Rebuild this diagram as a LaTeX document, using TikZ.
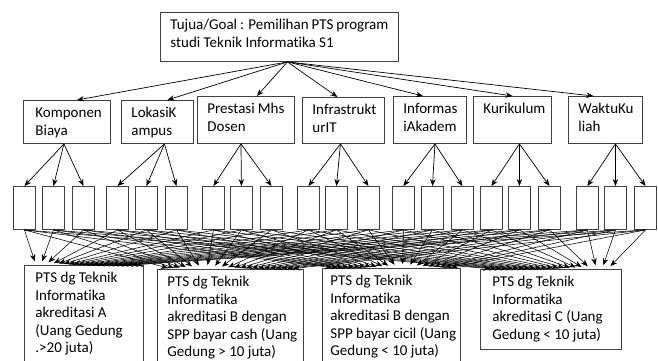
\documentclass[tikz,border=0pt]{standalone}
\usepackage{fontspec}
\setmainfont{Carlito}[Ligatures=CommonOff]
\usetikzlibrary{arrows.meta,calc}
\newcommand{\boxtxt}[3]{\parbox[c][#1][t]{#2}{\raggedright\hyphenpenalty=10000\exhyphenpenalty=10000\hbadness=10000\hfuzz=50pt\strut #3}}
\begin{document}
\begin{tikzpicture}[x=1pt,y=-1pt,
  box/.style={draw=black!75, line width=0.9pt, anchor=north west, inner xsep=10pt, inner ysep=5pt, font=\fontsize{15}{17.5}\selectfont},
  sub/.style={draw=black!75, line width=0.9pt, anchor=north west, minimum width=22pt, minimum height=43pt, inner sep=0pt},
  arr/.style={-{Stealth[length=7pt,width=5.5pt]}, line width=0.7pt, black}]
\useasboundingbox (0,0) rectangle (658,360);
\clip (0,0) rectangle (658,360);
% goal
\node[box] (goal) at (160,12) {\boxtxt{39pt}{218pt}{Tujua/Goal : Pemilihan PTS program\\studi Teknik Informatika S1}};
% criteria
\node[box,inner xsep=12pt] (c1) at (23,100) {\boxtxt{33pt}{63pt}{Komponen\\Biaya}};
\node[box] (c2) at (121,100) {\boxtxt{33pt}{52pt}{LokasiK\\ampus}};
\node[box] (c3) at (197,96) {\boxtxt{37pt}{77pt}{Prestasi Mhs\\Dosen}};
\node[box] (c4) at (302,97) {\boxtxt{36pt}{62pt}{Infrastrukt\\urIT}};
\node[box] (c5) at (393,96) {\boxtxt{37pt}{53pt}{Informas\\iAkadem}};
\node[box] (c6) at (473,96) {\boxtxt{37pt}{58pt}{Kurikulum}};
\node[box] (c7) at (568,96) {\boxtxt{37pt}{54pt}{WaktuKu\\liah}};
% sub boxes
\foreach \x [count=\i] in {13,42,72,106,135,165,202,230,260,297,325,357,392,421,451,480,508,538,576,604,634}
  \node[sub] (s\i) at (\x,186) {};
% alternatives
\node[box,inner xsep=11pt] (a1) at (24,265) {\boxtxt{90pt}{97pt}{PTS dg Teknik\\Informatika\\akreditasi A\\\mbox{(Uang Gedung}\\.>20 juta)}};
\node[box] (a2) at (157,269) {\boxtxt{86pt}{126pt}{PTS dg Teknik\\Informatika\\\mbox{akreditasi B dengan}\\\mbox{SPP bayar cash (Uang}\\Gedung > 10 juta)}};
\node[box,inner xsep=8pt] (a3) at (322,268) {\boxtxt{87pt}{122pt}{PTS dg Teknik\\Informatika\\\mbox{akreditasi B dengan}\\\mbox{SPP bayar cicil (Uang}\\Gedung < 10 juta)}};
\node[box,inner xsep=12pt] (a4) at (480,269) {\boxtxt{70pt}{117pt}{PTS dg Teknik\\Informatika\\\mbox{akreditasi C (Uang}\\Gedung < 10 juta)}};
% goal -> criteria
\coordinate (gs) at ([xshift=8pt]goal.south);
\foreach \n/\dx in {1/10,2/10,3/11,4/-6,5/-7,6/0,7/-12}
  \draw[arr] (gs) -- ([xshift=\dx pt]c\n.north);
% criteria -> sub boxes
\foreach \n/\dx in {1/-3,2/7,3/-5,4/-3,5/5,6/7,7/10}
  \coordinate (cb\n) at ([xshift=\dx pt]c\n.south);
\foreach \i in {1,...,21}{
  \pgfmathtruncatemacro\g{ceil(\i/3)}
  \draw[arr] (cb\g) -- (s\i.north);
}
% sub boxes -> alternatives
\foreach \i in {1,...,21}{
  \foreach \j in {1,...,4}{
    \pgfmathsetmacro\f{0.1+0.8*(\i-1)/20}
    \draw[arr, line width=0.55pt, shorten >=4pt] (s\i.south) -- ($(a\j.north west)!\f!(a\j.north east)$);
  }
}
\end{tikzpicture}
\end{document}
